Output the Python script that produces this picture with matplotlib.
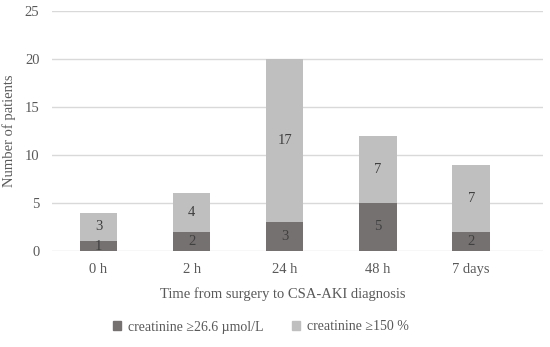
import matplotlib
matplotlib.use("Agg")
import matplotlib.pyplot as plt
from matplotlib.patches import Patch

categories = ["0 h", "2 h", "24 h", "48 h", "7 days"]
abs_vals = [1, 2, 3, 5, 2]
pct_vals = [3, 4, 17, 7, 7]
series_names = ["creatinine \u226526.6 \u00b5mol/L", "creatinine \u2265150 %"]
yticks = [0, 5, 10, 15, 20, 25]

plt.rcParams['font.family'] = ['Liberation Serif', 'DejaVu Serif']
dark = "#767171"
light = "#bfbfbf"
txt = "#595959"

fig = plt.figure(figsize=(5.5, 3.47), dpi=100)
ax = fig.add_axes([0.0945, 0.2767, 0.8925, 0.6915])
x = list(range(len(categories)))
w = 0.4
ax.bar(x, abs_vals, width=w, color=dark, zorder=3)
ax.bar(x, pct_vals, width=w, bottom=abs_vals, color=light, zorder=3)
for i in x:
    ax.text(i, abs_vals[i] / 2, str(abs_vals[i]), ha="center", va="center", fontsize=10.5, color="#404040", zorder=4)
    ax.text(i, abs_vals[i] + pct_vals[i] / 2, str(pct_vals[i]), ha="center", va="center", fontsize=10.5, color="#404040", zorder=4)

ax.set_xlim(-0.5, 4.77)
ax.set_ylim(0, 25)
ax.set_yticks(yticks)
ax.set_xticks(x)
ax.set_xticklabels(categories)
ax.tick_params(length=0, labelsize=10.5, colors=txt, pad=9)
ax.yaxis.grid(True, color="#d9d9d9", linewidth=1, zorder=0)
for s in ax.spines.values():
    s.set_visible(False)
ax.set_ylabel("Number of patients", fontsize=10.5, color=txt, labelpad=6)
ax.set_xlabel("Time from surgery to CSA-AKI diagnosis", fontsize=10.5, color=txt)
ax.xaxis.set_label_coords((283 - 52) / 491, -0.15)

handles = [Patch(color=dark), Patch(color=light)]
fig.legend(handles, series_names, loc="center", bbox_to_anchor=(261 / 550, 1 - 327 / 347),
           ncol=2, frameon=False, fontsize=10, labelcolor=txt, handlelength=0.6, handleheight=0.6,
           handletextpad=0.5, columnspacing=2.0)
fig.savefig("out.png", dpi=100)
